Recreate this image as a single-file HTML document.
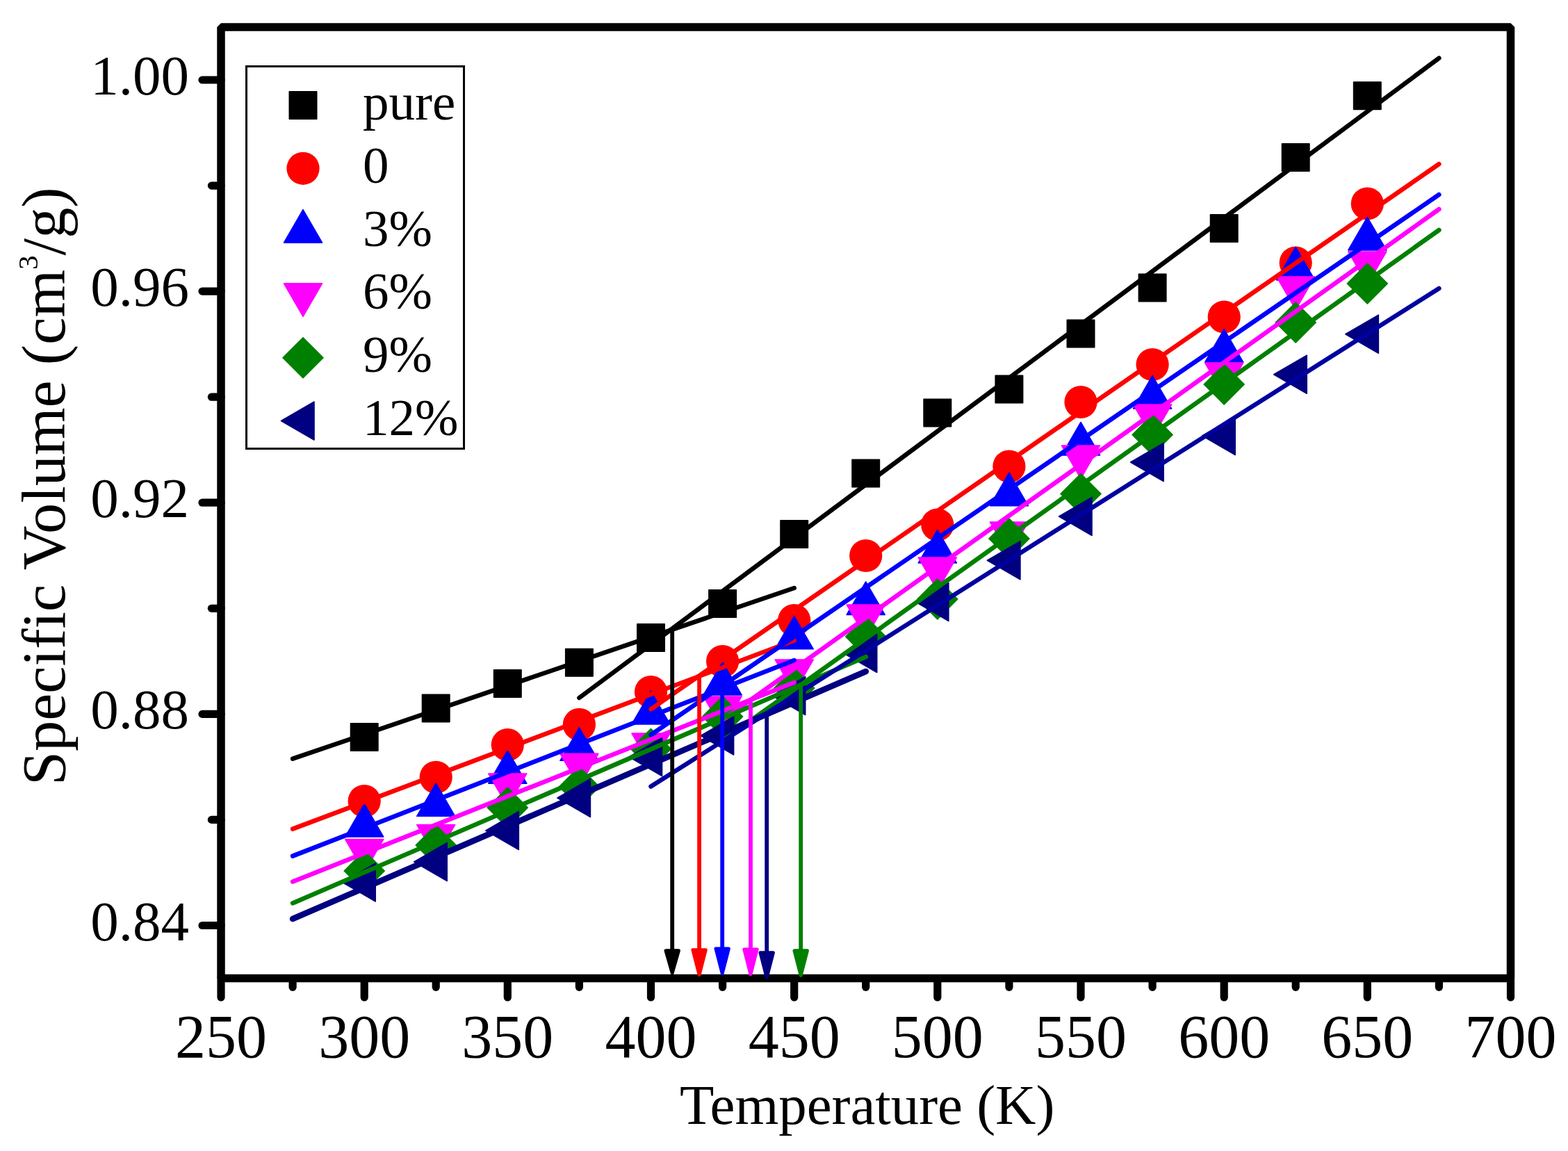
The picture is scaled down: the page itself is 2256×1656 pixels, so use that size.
<!DOCTYPE html><html><head><meta charset="utf-8"><title>Specific Volume vs Temperature</title>
<style>html,body{margin:0;padding:0;background:#fff;}svg{display:block;}text{font-family:"Liberation Serif","Times New Roman",serif;fill:#000;}</style></head><body>
<svg width="2256" height="1656" viewBox="0 0 2256 1656">
<rect width="2256" height="1656" fill="#fff"/>
<rect x="318.0" y="39.0" width="1855.5" height="1368.5" fill="none" stroke="#000" stroke-width="11.5" stroke-linejoin="bevel"/>
<line x1="318.0" y1="1407.5" x2="318.0" y2="1435.0" stroke="#000" stroke-width="11.2" stroke-linecap="round"/>
<text x="318.0" y="1521" font-size="88" text-anchor="middle">250</text>
<line x1="421.1" y1="1407.5" x2="421.1" y2="1420.3" stroke="#000" stroke-width="11.2" stroke-linecap="round"/>
<line x1="524.2" y1="1407.5" x2="524.2" y2="1435.0" stroke="#000" stroke-width="11.2" stroke-linecap="round"/>
<text x="524.2" y="1521" font-size="88" text-anchor="middle">300</text>
<line x1="627.2" y1="1407.5" x2="627.2" y2="1420.3" stroke="#000" stroke-width="11.2" stroke-linecap="round"/>
<line x1="730.3" y1="1407.5" x2="730.3" y2="1435.0" stroke="#000" stroke-width="11.2" stroke-linecap="round"/>
<text x="730.3" y="1521" font-size="88" text-anchor="middle">350</text>
<line x1="833.4" y1="1407.5" x2="833.4" y2="1420.3" stroke="#000" stroke-width="11.2" stroke-linecap="round"/>
<line x1="936.5" y1="1407.5" x2="936.5" y2="1435.0" stroke="#000" stroke-width="11.2" stroke-linecap="round"/>
<text x="936.5" y="1521" font-size="88" text-anchor="middle">400</text>
<line x1="1039.6" y1="1407.5" x2="1039.6" y2="1420.3" stroke="#000" stroke-width="11.2" stroke-linecap="round"/>
<line x1="1142.7" y1="1407.5" x2="1142.7" y2="1435.0" stroke="#000" stroke-width="11.2" stroke-linecap="round"/>
<text x="1142.7" y="1521" font-size="88" text-anchor="middle">450</text>
<line x1="1245.7" y1="1407.5" x2="1245.7" y2="1420.3" stroke="#000" stroke-width="11.2" stroke-linecap="round"/>
<line x1="1348.8" y1="1407.5" x2="1348.8" y2="1435.0" stroke="#000" stroke-width="11.2" stroke-linecap="round"/>
<text x="1348.8" y="1521" font-size="88" text-anchor="middle">500</text>
<line x1="1451.9" y1="1407.5" x2="1451.9" y2="1420.3" stroke="#000" stroke-width="11.2" stroke-linecap="round"/>
<line x1="1555.0" y1="1407.5" x2="1555.0" y2="1435.0" stroke="#000" stroke-width="11.2" stroke-linecap="round"/>
<text x="1555.0" y="1521" font-size="88" text-anchor="middle">550</text>
<line x1="1658.1" y1="1407.5" x2="1658.1" y2="1420.3" stroke="#000" stroke-width="11.2" stroke-linecap="round"/>
<line x1="1761.2" y1="1407.5" x2="1761.2" y2="1435.0" stroke="#000" stroke-width="11.2" stroke-linecap="round"/>
<text x="1761.2" y="1521" font-size="88" text-anchor="middle">600</text>
<line x1="1864.2" y1="1407.5" x2="1864.2" y2="1420.3" stroke="#000" stroke-width="11.2" stroke-linecap="round"/>
<line x1="1967.3" y1="1407.5" x2="1967.3" y2="1435.0" stroke="#000" stroke-width="11.2" stroke-linecap="round"/>
<text x="1967.3" y="1521" font-size="88" text-anchor="middle">650</text>
<line x1="2070.4" y1="1407.5" x2="2070.4" y2="1420.3" stroke="#000" stroke-width="11.2" stroke-linecap="round"/>
<line x1="2173.5" y1="1407.5" x2="2173.5" y2="1435.0" stroke="#000" stroke-width="11.2" stroke-linecap="round"/>
<text x="2173.5" y="1521" font-size="88" text-anchor="middle">700</text>
<line x1="318.0" y1="1331.5" x2="291.0" y2="1331.5" stroke="#000" stroke-width="11.2" stroke-linecap="round"/>
<text x="272" y="1352.5" font-size="81" text-anchor="end">0.84</text>
<line x1="318.0" y1="1179.4" x2="304.4" y2="1179.4" stroke="#000" stroke-width="11.2" stroke-linecap="round"/>
<line x1="318.0" y1="1027.4" x2="291.0" y2="1027.4" stroke="#000" stroke-width="11.2" stroke-linecap="round"/>
<text x="272" y="1048.4" font-size="81" text-anchor="end">0.88</text>
<line x1="318.0" y1="875.3" x2="304.4" y2="875.3" stroke="#000" stroke-width="11.2" stroke-linecap="round"/>
<line x1="318.0" y1="723.2" x2="291.0" y2="723.2" stroke="#000" stroke-width="11.2" stroke-linecap="round"/>
<text x="272" y="744.2" font-size="81" text-anchor="end">0.92</text>
<line x1="318.0" y1="571.2" x2="304.4" y2="571.2" stroke="#000" stroke-width="11.2" stroke-linecap="round"/>
<line x1="318.0" y1="419.1" x2="291.0" y2="419.1" stroke="#000" stroke-width="11.2" stroke-linecap="round"/>
<text x="272" y="440.1" font-size="81" text-anchor="end">0.96</text>
<line x1="318.0" y1="267.1" x2="304.4" y2="267.1" stroke="#000" stroke-width="11.2" stroke-linecap="round"/>
<line x1="318.0" y1="115.0" x2="291.0" y2="115.0" stroke="#000" stroke-width="11.2" stroke-linecap="round"/>
<text x="272" y="136.0" font-size="81" text-anchor="end">1.00</text>
<rect x="504.5" y="1040.7" width="39.4" height="39.4" fill="#000000" stroke="#000000" stroke-width="1.6" stroke-linejoin="round"/>
<rect x="607.5" y="999.2" width="39.4" height="39.4" fill="#000000" stroke="#000000" stroke-width="1.6" stroke-linejoin="round"/>
<rect x="710.6" y="963.7" width="39.4" height="39.4" fill="#000000" stroke="#000000" stroke-width="1.6" stroke-linejoin="round"/>
<rect x="813.7" y="933.6" width="39.4" height="39.4" fill="#000000" stroke="#000000" stroke-width="1.6" stroke-linejoin="round"/>
<rect x="916.8" y="897.8" width="39.4" height="39.4" fill="#000000" stroke="#000000" stroke-width="1.6" stroke-linejoin="round"/>
<rect x="1019.9" y="848.8" width="39.4" height="39.4" fill="#000000" stroke="#000000" stroke-width="1.6" stroke-linejoin="round"/>
<rect x="1123.0" y="748.8" width="39.4" height="39.4" fill="#000000" stroke="#000000" stroke-width="1.6" stroke-linejoin="round"/>
<rect x="1226.0" y="661.3" width="39.4" height="39.4" fill="#000000" stroke="#000000" stroke-width="1.6" stroke-linejoin="round"/>
<rect x="1329.1" y="574.3" width="39.4" height="39.4" fill="#000000" stroke="#000000" stroke-width="1.6" stroke-linejoin="round"/>
<rect x="1432.2" y="540.3" width="39.4" height="39.4" fill="#000000" stroke="#000000" stroke-width="1.6" stroke-linejoin="round"/>
<rect x="1535.3" y="460.3" width="39.4" height="39.4" fill="#000000" stroke="#000000" stroke-width="1.6" stroke-linejoin="round"/>
<rect x="1638.4" y="394.3" width="39.4" height="39.4" fill="#000000" stroke="#000000" stroke-width="1.6" stroke-linejoin="round"/>
<rect x="1741.5" y="308.8" width="39.4" height="39.4" fill="#000000" stroke="#000000" stroke-width="1.6" stroke-linejoin="round"/>
<rect x="1844.5" y="206.8" width="39.4" height="39.4" fill="#000000" stroke="#000000" stroke-width="1.6" stroke-linejoin="round"/>
<rect x="1947.6" y="118.0" width="39.4" height="39.4" fill="#000000" stroke="#000000" stroke-width="1.6" stroke-linejoin="round"/>
<circle cx="524.2" cy="1152.5" r="23.6" fill="#ff0000"/>
<circle cx="627.2" cy="1118.3" r="23.6" fill="#ff0000"/>
<circle cx="730.3" cy="1071.6" r="23.6" fill="#ff0000"/>
<circle cx="833.4" cy="1042.4" r="23.6" fill="#ff0000"/>
<circle cx="936.5" cy="995.5" r="23.6" fill="#ff0000"/>
<circle cx="1039.6" cy="951.5" r="23.6" fill="#ff0000"/>
<circle cx="1142.7" cy="892.5" r="23.6" fill="#ff0000"/>
<circle cx="1245.7" cy="799.5" r="23.6" fill="#ff0000"/>
<circle cx="1348.8" cy="755.0" r="23.6" fill="#ff0000"/>
<circle cx="1451.9" cy="671.0" r="23.6" fill="#ff0000"/>
<circle cx="1555.0" cy="578.5" r="23.6" fill="#ff0000"/>
<circle cx="1658.1" cy="524.5" r="23.6" fill="#ff0000"/>
<circle cx="1761.2" cy="456.0" r="23.6" fill="#ff0000"/>
<circle cx="1864.2" cy="378.0" r="23.6" fill="#ff0000"/>
<circle cx="1967.3" cy="293.0" r="23.6" fill="#ff0000"/>
<polygon points="524.2,1156.4 551.7,1203.9 496.7,1203.9" fill="#0000ff" stroke="#0000ff" stroke-width="1.6" stroke-linejoin="round"/>
<polygon points="627.2,1126.8 654.7,1174.3 599.7,1174.3" fill="#0000ff" stroke="#0000ff" stroke-width="1.6" stroke-linejoin="round"/>
<polygon points="730.3,1079.7 757.8,1127.2 702.8,1127.2" fill="#0000ff" stroke="#0000ff" stroke-width="1.6" stroke-linejoin="round"/>
<polygon points="833.4,1046.8 860.9,1094.3 805.9,1094.3" fill="#0000ff" stroke="#0000ff" stroke-width="1.6" stroke-linejoin="round"/>
<polygon points="936.5,994.5 964.0,1042.0 909.0,1042.0" fill="#0000ff" stroke="#0000ff" stroke-width="1.6" stroke-linejoin="round"/>
<polygon points="1039.6,952.5 1067.1,1000.0 1012.1,1000.0" fill="#0000ff" stroke="#0000ff" stroke-width="1.6" stroke-linejoin="round"/>
<polygon points="1142.7,886.3 1170.2,933.8 1115.2,933.8" fill="#0000ff" stroke="#0000ff" stroke-width="1.6" stroke-linejoin="round"/>
<polygon points="1245.7,837.0 1273.2,884.5 1218.2,884.5" fill="#0000ff" stroke="#0000ff" stroke-width="1.6" stroke-linejoin="round"/>
<polygon points="1348.8,762.5 1376.3,810.0 1321.3,810.0" fill="#0000ff" stroke="#0000ff" stroke-width="1.6" stroke-linejoin="round"/>
<polygon points="1451.9,680.2 1479.4,727.7 1424.4,727.7" fill="#0000ff" stroke="#0000ff" stroke-width="1.6" stroke-linejoin="round"/>
<polygon points="1555.0,607.5 1582.5,655.0 1527.5,655.0" fill="#0000ff" stroke="#0000ff" stroke-width="1.6" stroke-linejoin="round"/>
<polygon points="1658.1,540.5 1685.6,588.0 1630.6,588.0" fill="#0000ff" stroke="#0000ff" stroke-width="1.6" stroke-linejoin="round"/>
<polygon points="1761.2,473.5 1788.7,521.0 1733.7,521.0" fill="#0000ff" stroke="#0000ff" stroke-width="1.6" stroke-linejoin="round"/>
<polygon points="1864.2,355.5 1891.7,403.0 1836.7,403.0" fill="#0000ff" stroke="#0000ff" stroke-width="1.6" stroke-linejoin="round"/>
<polygon points="1967.3,312.5 1994.8,360.0 1939.8,360.0" fill="#0000ff" stroke="#0000ff" stroke-width="1.6" stroke-linejoin="round"/>
<polygon points="524.2,1255.0 551.7,1207.5 496.7,1207.5" fill="#ff00ff" stroke="#ff00ff" stroke-width="1.6" stroke-linejoin="round"/>
<polygon points="627.2,1234.1 654.7,1186.6 599.7,1186.6" fill="#ff00ff" stroke="#ff00ff" stroke-width="1.6" stroke-linejoin="round"/>
<polygon points="730.3,1160.5 757.8,1113.0 702.8,1113.0" fill="#ff00ff" stroke="#ff00ff" stroke-width="1.6" stroke-linejoin="round"/>
<polygon points="833.4,1131.9 860.9,1084.4 805.9,1084.4" fill="#ff00ff" stroke="#ff00ff" stroke-width="1.6" stroke-linejoin="round"/>
<polygon points="936.5,1102.5 964.0,1055.0 909.0,1055.0" fill="#ff00ff" stroke="#ff00ff" stroke-width="1.6" stroke-linejoin="round"/>
<polygon points="1039.6,1049.5 1067.1,1002.0 1012.1,1002.0" fill="#ff00ff" stroke="#ff00ff" stroke-width="1.6" stroke-linejoin="round"/>
<polygon points="1142.7,996.5 1170.2,949.0 1115.2,949.0" fill="#ff00ff" stroke="#ff00ff" stroke-width="1.6" stroke-linejoin="round"/>
<polygon points="1245.7,917.5 1273.2,870.0 1218.2,870.0" fill="#ff00ff" stroke="#ff00ff" stroke-width="1.6" stroke-linejoin="round"/>
<polygon points="1348.8,849.5 1376.3,802.0 1321.3,802.0" fill="#ff00ff" stroke="#ff00ff" stroke-width="1.6" stroke-linejoin="round"/>
<polygon points="1451.9,798.5 1479.4,751.0 1424.4,751.0" fill="#ff00ff" stroke="#ff00ff" stroke-width="1.6" stroke-linejoin="round"/>
<polygon points="1555.0,688.5 1582.5,641.0 1527.5,641.0" fill="#ff00ff" stroke="#ff00ff" stroke-width="1.6" stroke-linejoin="round"/>
<polygon points="1658.1,629.5 1685.6,582.0 1630.6,582.0" fill="#ff00ff" stroke="#ff00ff" stroke-width="1.6" stroke-linejoin="round"/>
<polygon points="1761.2,569.5 1788.7,522.0 1733.7,522.0" fill="#ff00ff" stroke="#ff00ff" stroke-width="1.6" stroke-linejoin="round"/>
<polygon points="1864.2,445.5 1891.7,398.0 1836.7,398.0" fill="#ff00ff" stroke="#ff00ff" stroke-width="1.6" stroke-linejoin="round"/>
<polygon points="1967.3,409.5 1994.8,362.0 1939.8,362.0" fill="#ff00ff" stroke="#ff00ff" stroke-width="1.6" stroke-linejoin="round"/>
<polygon points="524.2,1224.0 553.2,1253.0 524.2,1282.0 495.2,1253.0" fill="#008000" stroke="#008000" stroke-width="1.6" stroke-linejoin="round"/>
<polygon points="627.2,1187.0 656.2,1216.0 627.2,1245.0 598.2,1216.0" fill="#008000" stroke="#008000" stroke-width="1.6" stroke-linejoin="round"/>
<polygon points="730.3,1133.0 759.3,1162.0 730.3,1191.0 701.3,1162.0" fill="#008000" stroke="#008000" stroke-width="1.6" stroke-linejoin="round"/>
<polygon points="833.4,1103.0 862.4,1132.0 833.4,1161.0 804.4,1132.0" fill="#008000" stroke="#008000" stroke-width="1.6" stroke-linejoin="round"/>
<polygon points="936.5,1048.5 965.5,1077.5 936.5,1106.5 907.5,1077.5" fill="#008000" stroke="#008000" stroke-width="1.6" stroke-linejoin="round"/>
<polygon points="1039.6,1002.0 1068.6,1031.0 1039.6,1060.0 1010.6,1031.0" fill="#008000" stroke="#008000" stroke-width="1.6" stroke-linejoin="round"/>
<polygon points="1142.7,961.0 1171.7,990.0 1142.7,1019.0 1113.7,990.0" fill="#008000" stroke="#008000" stroke-width="1.6" stroke-linejoin="round"/>
<polygon points="1245.7,887.0 1274.7,916.0 1245.7,945.0 1216.7,916.0" fill="#008000" stroke="#008000" stroke-width="1.6" stroke-linejoin="round"/>
<polygon points="1348.8,833.0 1377.8,862.0 1348.8,891.0 1319.8,862.0" fill="#008000" stroke="#008000" stroke-width="1.6" stroke-linejoin="round"/>
<polygon points="1451.9,746.0 1480.9,775.0 1451.9,804.0 1422.9,775.0" fill="#008000" stroke="#008000" stroke-width="1.6" stroke-linejoin="round"/>
<polygon points="1555.0,681.5 1584.0,710.5 1555.0,739.5 1526.0,710.5" fill="#008000" stroke="#008000" stroke-width="1.6" stroke-linejoin="round"/>
<polygon points="1658.1,596.5 1687.1,625.5 1658.1,654.5 1629.1,625.5" fill="#008000" stroke="#008000" stroke-width="1.6" stroke-linejoin="round"/>
<polygon points="1761.2,524.0 1790.2,553.0 1761.2,582.0 1732.2,553.0" fill="#008000" stroke="#008000" stroke-width="1.6" stroke-linejoin="round"/>
<polygon points="1864.2,435.0 1893.2,464.0 1864.2,493.0 1835.2,464.0" fill="#008000" stroke="#008000" stroke-width="1.6" stroke-linejoin="round"/>
<polygon points="1967.3,379.0 1996.3,408.0 1967.3,437.0 1938.3,408.0" fill="#008000" stroke="#008000" stroke-width="1.6" stroke-linejoin="round"/>
<polygon points="492.7,1269.5 540.2,1242.0 540.2,1297.0" fill="#000080" stroke="#000080" stroke-width="1.6" stroke-linejoin="round"/>
<polygon points="595.7,1240.0 643.2,1212.5 643.2,1267.5" fill="#000080" stroke="#000080" stroke-width="1.6" stroke-linejoin="round"/>
<polygon points="698.8,1195.0 746.3,1167.5 746.3,1222.5" fill="#000080" stroke="#000080" stroke-width="1.6" stroke-linejoin="round"/>
<polygon points="801.9,1148.0 849.4,1120.5 849.4,1175.5" fill="#000080" stroke="#000080" stroke-width="1.6" stroke-linejoin="round"/>
<polygon points="905.0,1089.0 952.5,1061.5 952.5,1116.5" fill="#000080" stroke="#000080" stroke-width="1.6" stroke-linejoin="round"/>
<polygon points="1008.1,1058.5 1055.6,1031.0 1055.6,1086.0" fill="#000080" stroke="#000080" stroke-width="1.6" stroke-linejoin="round"/>
<polygon points="1111.2,1001.0 1158.7,973.5 1158.7,1028.5" fill="#000080" stroke="#000080" stroke-width="1.6" stroke-linejoin="round"/>
<polygon points="1214.2,940.0 1261.7,912.5 1261.7,967.5" fill="#000080" stroke="#000080" stroke-width="1.6" stroke-linejoin="round"/>
<polygon points="1317.3,866.0 1364.8,838.5 1364.8,893.5" fill="#000080" stroke="#000080" stroke-width="1.6" stroke-linejoin="round"/>
<polygon points="1420.4,806.3 1467.9,778.8 1467.9,833.8" fill="#000080" stroke="#000080" stroke-width="1.6" stroke-linejoin="round"/>
<polygon points="1523.5,743.0 1571.0,715.5 1571.0,770.5" fill="#000080" stroke="#000080" stroke-width="1.6" stroke-linejoin="round"/>
<polygon points="1626.6,665.0 1674.1,637.5 1674.1,692.5" fill="#000080" stroke="#000080" stroke-width="1.6" stroke-linejoin="round"/>
<polygon points="1729.7,627.0 1777.2,599.5 1777.2,654.5" fill="#000080" stroke="#000080" stroke-width="1.6" stroke-linejoin="round"/>
<polygon points="1832.7,538.7 1880.2,511.2 1880.2,566.2" fill="#000080" stroke="#000080" stroke-width="1.6" stroke-linejoin="round"/>
<polygon points="1935.8,480.7 1983.3,453.2 1983.3,508.2" fill="#000080" stroke="#000080" stroke-width="1.6" stroke-linejoin="round"/>
<line x1="421.1" y1="1091.7" x2="1142.7" y2="846.0" stroke="#000000" stroke-width="6.5" stroke-linecap="round"/>
<line x1="833.4" y1="1004.0" x2="2070.4" y2="83.6" stroke="#000000" stroke-width="6.5" stroke-linecap="round"/>
<line x1="421.1" y1="1192.6" x2="1142.7" y2="921.5" stroke="#ff0000" stroke-width="6.5" stroke-linecap="round"/>
<line x1="936.5" y1="1020.3" x2="2070.4" y2="236.0" stroke="#ff0000" stroke-width="6.5" stroke-linecap="round"/>
<line x1="421.1" y1="1231.6" x2="1142.7" y2="950.0" stroke="#0000ff" stroke-width="6.5" stroke-linecap="round"/>
<line x1="936.5" y1="1057.3" x2="2070.4" y2="280.0" stroke="#0000ff" stroke-width="6.5" stroke-linecap="round"/>
<line x1="421.1" y1="1268.5" x2="1142.7" y2="982.0" stroke="#ff00ff" stroke-width="6.5" stroke-linecap="round"/>
<line x1="1039.6" y1="1035.8" x2="2070.4" y2="301.0" stroke="#ff00ff" stroke-width="6.5" stroke-linecap="round"/>
<line x1="421.1" y1="1299.4" x2="1245.8" y2="945.0" stroke="#008000" stroke-width="6.5" stroke-linecap="round"/>
<line x1="1039.6" y1="1065.5" x2="2070.4" y2="331.0" stroke="#008000" stroke-width="6.5" stroke-linecap="round"/>
<line x1="421.1" y1="1322.0" x2="1245.8" y2="966.0" stroke="#000080" stroke-width="8.6" stroke-linecap="round"/>
<line x1="936.5" y1="1131.5" x2="2070.4" y2="415.0" stroke="#0000a0" stroke-width="6.5" stroke-linecap="round"/>
<line x1="967.2" y1="905.0" x2="967.2" y2="1367.3" stroke="#000000" stroke-width="5.8"/>
<polygon points="958.0,1367.8 976.4,1367.8 967.2,1399.9" fill="#000000" stroke="#000000" stroke-width="5" stroke-linejoin="round"/>
<line x1="1006.1" y1="973.0" x2="1006.1" y2="1366.2" stroke="#ff0000" stroke-width="5.8"/>
<polygon points="996.9,1366.7 1015.3,1366.7 1006.1,1402.5" fill="#ff0000" stroke="#ff0000" stroke-width="5" stroke-linejoin="round"/>
<line x1="1039.2" y1="988.5" x2="1039.2" y2="1364.4" stroke="#0000ff" stroke-width="5.8"/>
<polygon points="1030.0,1364.9 1048.4,1364.9 1039.2,1400.4" fill="#0000ff" stroke="#0000ff" stroke-width="5" stroke-linejoin="round"/>
<line x1="1080.0" y1="1007.5" x2="1080.0" y2="1365.4" stroke="#ff00ff" stroke-width="5.8"/>
<polygon points="1070.8,1365.9 1089.2,1365.9 1080.0,1401.5" fill="#ff00ff" stroke="#ff00ff" stroke-width="5" stroke-linejoin="round"/>
<line x1="1152.2" y1="985.5" x2="1152.2" y2="1367.3" stroke="#008000" stroke-width="5.8"/>
<polygon points="1143.0,1367.8 1161.4,1367.8 1152.2,1403.5" fill="#008000" stroke="#008000" stroke-width="5" stroke-linejoin="round"/>
<line x1="1103.2" y1="1027.0" x2="1103.2" y2="1370.2" stroke="#000080" stroke-width="5.8"/>
<polygon points="1094.0,1370.7 1112.4,1370.7 1103.2,1406.3" fill="#000080" stroke="#000080" stroke-width="5" stroke-linejoin="round"/>
<text x="1247.6" y="1617" font-size="80.8" text-anchor="middle">Temperature (K)</text>
<text transform="translate(93,699.7) rotate(-90)" font-size="88.3" text-anchor="middle">Specific Volume (cm<tspan font-size="41" dy="-39.4">3</tspan><tspan dy="39.4">/g)</tspan></text>
<rect x="354.5" y="95.5" width="313" height="550" fill="#fff" stroke="#000" stroke-width="3"/>
<rect x="416.3" y="131.8" width="39.4" height="39.4" fill="#000000" stroke="#000000" stroke-width="1.6" stroke-linejoin="round"/>
<text x="522" y="172.0" font-size="75">pure</text>
<circle cx="436.0" cy="242.3" r="23.6" fill="#ff0000"/>
<text x="522" y="262.8" font-size="75">0</text>
<polygon points="436.0,301.6 463.5,349.1 408.5,349.1" fill="#0000ff" stroke="#0000ff" stroke-width="1.6" stroke-linejoin="round"/>
<text x="522" y="353.6" font-size="75">3%</text>
<polygon points="436.0,455.4 463.5,407.9 408.5,407.9" fill="#ff00ff" stroke="#ff00ff" stroke-width="1.6" stroke-linejoin="round"/>
<text x="522" y="444.4" font-size="75">6%</text>
<polygon points="436.0,485.7 465.0,514.7 436.0,543.7 407.0,514.7" fill="#008000" stroke="#008000" stroke-width="1.6" stroke-linejoin="round"/>
<text x="522" y="535.2" font-size="75">9%</text>
<polygon points="404.5,605.5 452.0,578.0 452.0,633.0" fill="#000080" stroke="#000080" stroke-width="1.6" stroke-linejoin="round"/>
<text x="522" y="626.0" font-size="75">12%</text>
</svg></body></html>
